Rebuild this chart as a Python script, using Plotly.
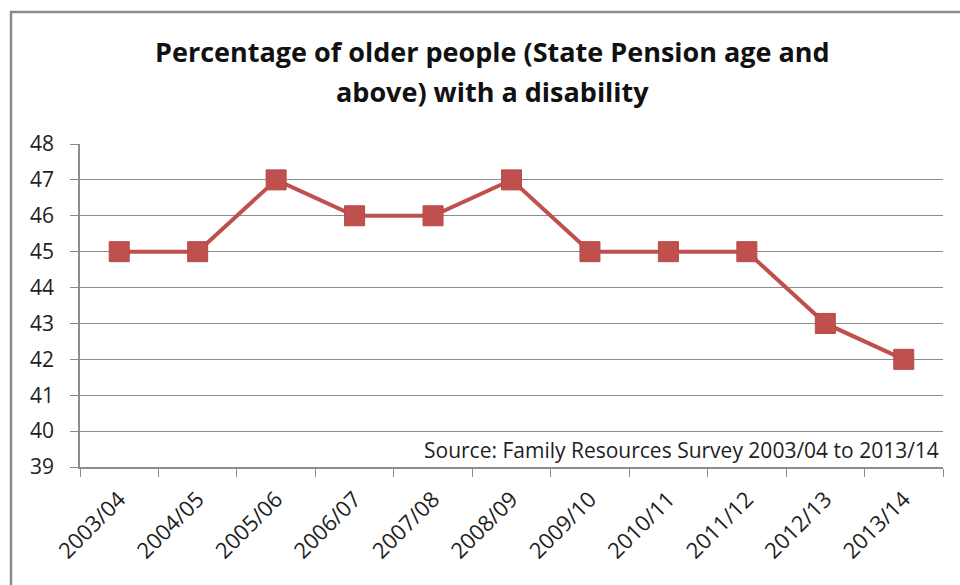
import plotly.graph_objects as go

years = ["2003/04", "2004/05", "2005/06", "2006/07", "2007/08", "2008/09",
         "2009/10", "2010/11", "2011/12", "2012/13", "2013/14"]
pct_disabled = [45, 45, 47, 46, 46, 47, 45, 45, 45, 43, 42]
y_ticks = list(range(39, 49))

W, H = 960, 585
L, R, T, B = 80, 17, 144, 118
pw, ph = W - L - R, H - T - B


def px_x(x):
    return (x - L) / pw


def px_y(y):
    return (H - B - y) / ph


FONT = "'Open Sans', sans-serif"
RED = "#C0504D"
GRID = "#8C8C8C"
TXT = "#1E1E1E"

fig = go.Figure()
fig.add_trace(go.Scatter(
    x=years, y=pct_disabled, mode="lines+markers",
    line=dict(color=RED, width=4),
    marker=dict(symbol="square", size=20, color=RED,
                line=dict(color="#B64A47", width=1)),
    showlegend=False, hoverinfo="x+y",
))

title_lines = ["Percentage of older people (State Pension age and",
               "above) with a disability"]
title_y = [51, 91]

annotations = [dict(
    text=f"<b>{t}</b>", xref="paper", yref="paper",
    x=px_x(492), y=px_y(yy), xanchor="center", yanchor="middle",
    showarrow=False, font=dict(size=27, color="#111111", family=FONT),
) for t, yy in zip(title_lines, title_y)]

annotations.append(dict(
    text="Source: Family Resources Survey 2003/04 to 2013/14",
    xref="paper", yref="paper", x=px_x(941), y=px_y(450),
    xanchor="right", yanchor="middle", showarrow=False,
    font=dict(size=21, color=TXT, family=FONT),
))

fig.update_layout(
    width=W, height=H,
    margin=dict(l=L, r=R, t=T, b=B, autoexpand=False),
    paper_bgcolor="white", plot_bgcolor="white",
    font=dict(family=FONT, color=TXT),
    xaxis=dict(
        type="category", categoryorder="array", categoryarray=years,
        tickson="boundaries", ticks="outside", ticklen=8, tickcolor=GRID,
        showline=True, linecolor=GRID, linewidth=1.5,
        showgrid=False, tickangle=-45, ticklabelstandoff=9,
        tickfont=dict(size=22, color=TXT), automargin=False,
        range=[-0.5, len(years) - 0.5],
    ),
    yaxis=dict(
        range=[39, 48], tickvals=y_ticks, ticktext=[str(v) for v in y_ticks],
        ticks="outside", ticklen=8, tickcolor=GRID,
        showline=True, linecolor=GRID, linewidth=1.5,
        showgrid=True, gridcolor=GRID, gridwidth=1,
        zeroline=False, ticklabelstandoff=12, automargin=False,
        tickfont=dict(size=21, color=TXT),
    ),
    shapes=[dict(
        type="rect", xref="paper", yref="paper",
        x0=px_x(11), x1=px_x(975), y0=px_y(600), y1=px_y(12),
        line=dict(color="#8A8A8A", width=2.5), fillcolor="rgba(0,0,0,0)",
        layer="below",
    )],
    annotations=annotations,
)

fig.write_html("out.html")
